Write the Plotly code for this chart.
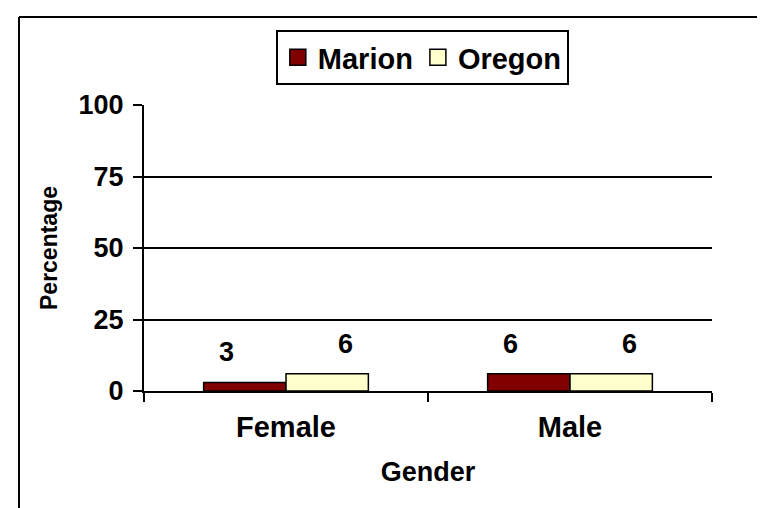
import plotly.graph_objects as go

categories = ["Female", "Male"]
marion = [3, 6]
oregon = [6, 6]
y_ticks = [0, 25, 50, 75, 100]
series_names = ["Marion", "Oregon"]
series_colors = ["#800000", "#FFFFCC"]

FONT = "Liberation Sans, Arial, sans-serif"

fig = go.Figure()
for name, vals, col in zip(series_names, (marion, oregon), series_colors):
    fig.add_trace(go.Bar(name=name, x=categories, y=vals, showlegend=False, legendgroup=name,
                         marker=dict(color=col, line=dict(color="black", width=1.5))))
# legend entries with larger square swatches
for name, col in zip(series_names, series_colors):
    fig.add_trace(go.Scatter(name=name, x=[None], y=[None], mode="markers", legendgroup=name,
                             marker=dict(symbol="square", size=18, color=col,
                                         line=dict(color="black", width=1.5))))

# value labels above bars
for i, c in enumerate(categories):
    for vals, off in ((marion, -0.21), (oregon, 0.21)):
        fig.add_annotation(x=i + off, y=vals[i], xref="x", yref="y",
                           text=str(vals[i]), showarrow=False, yshift=30,
                           font=dict(family=FONT, size=27, color="black", weight="bold"))

fig.update_layout(
    width=765, height=508,
    margin=dict(l=136, r=61, t=97, b=125),
    paper_bgcolor="white", plot_bgcolor="white",
    barmode="group", bargap=0.42, bargroupgap=0,
    font=dict(family=FONT, color="black"),
    showlegend=True,
    legend=dict(orientation="h", x=0.49, xanchor="center", y=(383 - 22) / 286, yanchor="top",
                bordercolor="black", borderwidth=2, bgcolor="white",
                font=dict(family=FONT, size=29, color="black", weight="bold"),
                traceorder="normal", itemwidth=30, itemsizing="trace"),
    xaxis=dict(showline=True, linecolor="black", linewidth=2,
               ticks="outside", tickson="boundaries", ticklen=9, tickwidth=2, tickcolor="black",
               tickfont=dict(family=FONT, size=29, color="black", weight="bold"),
               ticklabelstandoff=9,
               title=dict(text="Gender", standoff=20,
                          font=dict(family=FONT, size=27, color="black", weight="bold")),
               showgrid=False),
    yaxis=dict(range=[0, 100], tickvals=y_ticks, showline=True, linecolor="black", linewidth=2,
               ticks="outside", ticklen=9, tickwidth=2, tickcolor="black",
               tickfont=dict(family=FONT, size=27, color="black", weight="bold"),
               ticklabelstandoff=4,
               showgrid=True, gridcolor="black", gridwidth=2, zeroline=False,
               title=dict(text="Percentage", standoff=14,
                          font=dict(family=FONT, size=23, color="black", weight="bold"))),
)

# outer frame (top and left edges)
fig.add_shape(type="line", xref="paper", yref="paper",
              x0=(11 - 136) / 568, x1=(755 - 136) / 568,
              y0=(383 - 9) / 286, y1=(383 - 9) / 286,
              line=dict(color="black", width=2))
fig.add_shape(type="line", xref="paper", yref="paper",
              x0=(11 - 136) / 568, x1=(11 - 136) / 568,
              y0=(383 - 9) / 286, y1=(383 - 510) / 286,
              line=dict(color="black", width=2))

fig.write_html("out.html")
